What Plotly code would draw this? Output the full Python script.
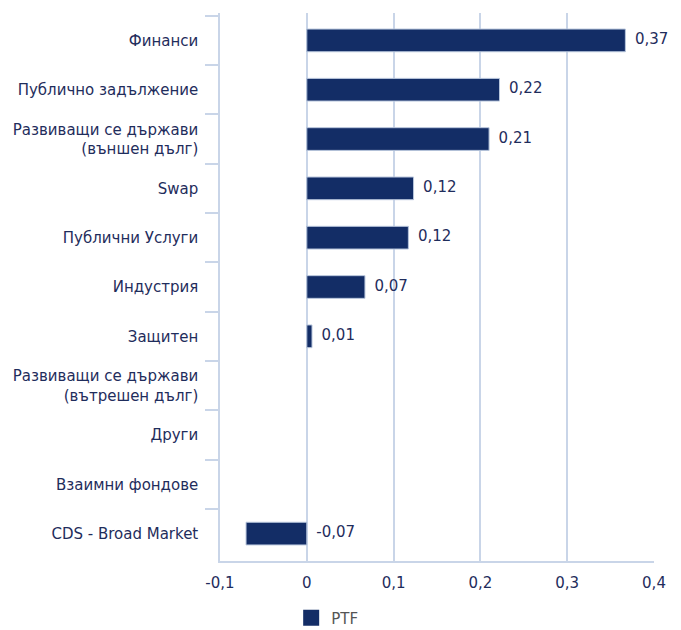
import plotly.graph_objects as go

categories = [
    "Финанси",
    "Публично задължение",
    "Развиващи се държави<br>(външен дълг)",
    "Swap",
    "Публични Услуги",
    "Индустрия",
    "Защитен",
    "Развиващи се държави<br>(вътрешен дълг)",
    "Други",
    "Взаимни фондове",
    "CDS - Broad Market",
]

values = [0.367, 0.222, 0.21, 0.123, 0.117, 0.067, 0.006, None, None, None, -0.07]
labels = ["0,37", "0,22", "0,21", "0,12", "0,12", "0,07", "0,01", "", "", "", "-0,07"]

tick_vals = [-0.1, 0, 0.1, 0.2, 0.3, 0.4]
tick_text = ["-0,1", "0", "0,1", "0,2", "0,3", "0,4"]

NAVY = "#132d66"
TEXT = "#1f2d5c"
GRID = "#c9d5e8"
FONT = "DejaVu Sans"
FS = 15

fig = go.Figure()
fig.add_trace(go.Bar(
    y=categories, x=values, orientation="h", name="PTF",
    marker=dict(color=NAVY, line=dict(color="#b8c6dc", width=1)),
    width=0.46, showlegend=False,
))
# legend entry
fig.add_trace(go.Scatter(
    x=[None], y=[None], mode="markers", name="PTF",
    marker=dict(symbol="square", size=20, color=NAVY),
    showlegend=True, hoverinfo="skip",
))

label_x = [max(v, 0) if v is not None else None for v in values]
fig.add_trace(go.Scatter(
    y=categories, x=label_x, mode="text",
    text=["\u00a0\u00a0" + t if t else "" for t in labels],
    textposition="middle right",
    textfont=dict(family=FONT, size=FS, color=TEXT),
    showlegend=False, hoverinfo="skip", cliponaxis=False,
))

fig.update_layout(
    width=673, height=622,
    margin=dict(l=212, r=27, t=5, b=69, autoexpand=False),
    plot_bgcolor="white", paper_bgcolor="white",
    font=dict(family=FONT, size=FS, color=TEXT),
    showlegend=True,
    legend=dict(
        orientation="h", x=0.164, xanchor="left", y=-0.104, yanchor="middle",
        font=dict(family=FONT, size=FS, color="#555555"),
        itemsizing="trace",
    ),
    bargap=0.54,
)
fig.update_xaxes(
    range=[-0.1, 0.4], tickvals=tick_vals, ticktext=tick_text,
    showgrid=True, gridcolor=GRID, gridwidth=1.5,
    zeroline=True, zerolinecolor=GRID, zerolinewidth=1.5,
    showline=True, linecolor=GRID, linewidth=1.5,
    ticks="", tickfont=dict(family=FONT, size=FS, color=TEXT),
    ticklabelstandoff=7,
    fixedrange=True, automargin=False,
)
fig.update_yaxes(
    categoryorder="array", categoryarray=categories, autorange="reversed",
    showgrid=False, showline=True, linecolor=GRID, linewidth=1.5,
    ticks="outside", tickson="boundaries", ticklen=13, tickcolor=GRID, tickwidth=1.5,
    tickfont=dict(family=FONT, size=FS, color=TEXT),
    ticklabelstandoff=17, automargin=False,
)

fig.write_html("out.html")
